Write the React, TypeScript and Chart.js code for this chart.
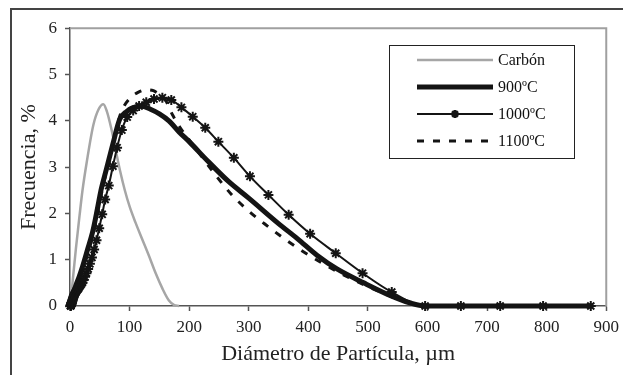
import React, { useEffect, useRef } from 'react';
import { Chart, registerables } from 'chart.js';

Chart.register(...registerables);

// ---- data ----
const seriesLabels = ['Carbón', '900ºC', '1000ºC', '1100ºC'];

const carbonX = [0, 2, 5, 10, 16, 21, 28, 39, 48, 56, 62, 69, 77, 84, 92, 100, 110, 120, 132, 144, 155, 166, 175, 183];
const carbonY = [0, 0.2, 0.6, 1.25, 1.95, 2.5, 3.1, 3.9, 4.25, 4.36, 4.2, 3.85, 3.35, 2.92, 2.5, 2.15, 1.8, 1.48, 1.1, 0.7, 0.38, 0.12, 0.02, 0];

const t900X = [0, 2, 5, 10, 15, 21, 29, 38, 46, 52, 61, 72, 83, 95, 105, 119, 135, 150, 166, 183, 200, 232, 266, 300, 350, 382, 415, 448, 493, 537, 570, 595, 660, 750, 877];
const t900Y = [0, 0.1, 0.25, 0.45, 0.62, 0.85, 1.2, 1.6, 2.1, 2.5, 2.95, 3.5, 4.02, 4.2, 4.28, 4.32, 4.25, 4.15, 4.0, 3.76, 3.55, 3.12, 2.69, 2.33, 1.78, 1.45, 1.09, 0.8, 0.5, 0.23, 0.07, 0, 0, 0, 0];

const t1000X = [1.0, 1.1, 1.3, 1.4, 1.5, 1.7, 1.9, 2.1, 2.3, 2.5, 2.8, 3.1, 3.4, 3.7, 4.1, 4.5, 5.0, 5.5, 6.0, 6.6, 7.3, 8.0, 8.8, 9.7, 10.6, 11.7, 12.9, 14.2, 15.6, 17.1, 18.8, 20.7, 22.8, 25.1, 27.6, 30.4, 33.4, 36.8, 40.5, 44.5, 49, 54, 59, 65, 72, 79, 87, 96, 106, 116, 128, 141, 155, 170, 187, 206, 227, 249, 275, 302, 333, 367, 403, 446, 491, 540, 596, 656, 722, 794, 874];
const t1000Y = [0, 0.005, 0.01, 0.015, 0.02, 0.025, 0.03, 0.04, 0.05, 0.06, 0.07, 0.08, 0.09, 0.1, 0.12, 0.14, 0.16, 0.18, 0.2, 0.22, 0.24, 0.26, 0.28, 0.3, 0.32, 0.34, 0.36, 0.38, 0.41, 0.44, 0.47, 0.51, 0.56, 0.63, 0.71, 0.8, 0.91, 1.05, 1.22, 1.42, 1.68, 1.98, 2.3, 2.6, 3.02, 3.42, 3.8, 4.08, 4.22, 4.32, 4.4, 4.47, 4.5, 4.45, 4.29, 4.09, 3.85, 3.55, 3.2, 2.8, 2.4, 1.97, 1.56, 1.14, 0.71, 0.3, 0, 0, 0, 0, 0];

const t1100X = [0, 2, 5, 10, 15, 21, 29, 38, 46, 54, 63, 72, 80, 88, 100, 115, 130, 140, 150, 160, 172, 185, 210, 246, 271, 300, 327, 360, 393, 432, 470, 500, 540, 570, 595, 660, 750, 877];
const t1100Y = [0, 0.08, 0.2, 0.38, 0.55, 0.75, 1.1, 1.5, 2.0, 2.5, 3.0, 3.45, 3.95, 4.25, 4.48, 4.62, 4.67, 4.65, 4.57, 4.45, 4.13, 3.85, 3.42, 2.8, 2.41, 2.05, 1.77, 1.45, 1.16, 0.86, 0.6, 0.42, 0.2, 0.07, 0, 0, 0, 0];

const xMin = 0, xMax = 900, xStep = 100;
const yMin = 0, yMax = 6, yStep = 1;
const xTitle = 'Diámetro de Partícula, µm';
const yTitle = 'Frecuencia, %';

const pts = (xs: number[], ys: number[]) => xs.map((x, i) => ({ x, y: ys[i] }));

const SERIF = '"Liberation Serif", "Times New Roman", serif';

function drawStar(ctx: CanvasRenderingContext2D, x: number, y: number, r: number) {
  ctx.beginPath();
  ctx.moveTo(x - r, y); ctx.lineTo(x + r, y);
  ctx.moveTo(x, y - r); ctx.lineTo(x, y + r);
  const d = r * 0.7071;
  ctx.moveTo(x - d, y - d); ctx.lineTo(x + d, y + d);
  ctx.moveTo(x - d, y + d); ctx.lineTo(x + d, y - d);
  ctx.stroke();
}

const framePlugin = {
  id: 'plotFrame',
  beforeDatasetsDraw(chart: any) {
    const { ctx, chartArea } = chart;
    ctx.save();
    ctx.strokeStyle = '#a0a0a0';
    ctx.lineWidth = 2;
    ctx.beginPath();
    ctx.moveTo(chartArea.left, chartArea.top);
    ctx.lineTo(chartArea.right, chartArea.top);
    ctx.lineTo(chartArea.right, chartArea.bottom);
    ctx.stroke();
    ctx.restore();
  },
};

const legendPlugin = {
  id: 'boxLegend',
  afterDraw(chart: any) {
    const { ctx, chartArea } = chart;
    const w = 185, h = 113;
    const bx = Math.round(chartArea.right - 32 - w);
    const by = Math.round(chartArea.top + 17);
    ctx.save();
    ctx.fillStyle = '#ffffff';
    ctx.fillRect(bx, by, w, h);
    ctx.strokeStyle = '#222';
    ctx.lineWidth = 1;
    ctx.strokeRect(bx + 0.5, by + 0.5, w, h);
    chart.data.datasets.forEach((ds: any, i: number) => {
      const y = by + 15 + i * 27;
      ctx.strokeStyle = ds.borderColor;
      ctx.lineWidth = ds.borderWidth;
      ctx.setLineDash(ds.borderDash || []);
      ctx.lineCap = 'butt';
      ctx.beginPath();
      ctx.moveTo(bx + 28, y);
      ctx.lineTo(bx + 104, y);
      ctx.stroke();
      ctx.setLineDash([]);
      if (ds.pointRadius && ds.pointRadius > 0) {
        ctx.lineWidth = 2.5;
        drawStar(ctx, bx + 66, y, 4);
      }
      ctx.fillStyle = '#111';
      ctx.font = `16px ${SERIF}`;
      ctx.textBaseline = 'middle';
      ctx.textAlign = 'left';
      ctx.fillText(ds.label, bx + 109, y + 1);
    });
    ctx.restore();
  },
};

export default function App() {
  const ref = useRef<HTMLCanvasElement | null>(null);

  useEffect(() => {
    if (!ref.current) return;
    const tickFont = { family: SERIF, size: 17 };
    const titleFont = { family: SERIF, size: 22 };
    const chart = new Chart(ref.current, {
      type: 'scatter',
      data: {
        datasets: [
          {
            label: seriesLabels[0],
            data: pts(carbonX, carbonY),
            showLine: true,
            borderColor: '#a6a6a6',
            borderWidth: 2.5,
            pointRadius: 0,
            cubicInterpolationMode: 'monotone',
            clip: false,
            order: 4,
          },
          {
            label: seriesLabels[1],
            data: pts(t900X, t900Y),
            showLine: true,
            borderColor: '#141414',
            borderWidth: 5,
            pointRadius: 0,
            borderJoinStyle: 'round',
            cubicInterpolationMode: 'monotone',
            clip: false,
            order: 3,
          },
          {
            label: seriesLabels[2],
            data: pts(t1000X, t1000Y),
            showLine: true,
            borderColor: '#141414',
            borderWidth: 2,
            pointRadius: 5,
            pointStyle: 'star',
            pointBorderColor: '#141414',
            pointBackgroundColor: '#141414',
            pointBorderWidth: 2,
            cubicInterpolationMode: 'monotone',
            clip: false,
            order: 1,
          },
          {
            label: seriesLabels[3],
            data: pts(t1100X, t1100Y),
            showLine: true,
            borderColor: '#141414',
            borderWidth: 3,
            borderDash: [7, 9],
            pointRadius: 0,
            cubicInterpolationMode: 'monotone',
            clip: false,
            order: 2,
          },
        ] as any,
      },
      options: {
        animation: false,
        responsive: false,
        devicePixelRatio: 1,
        layout: { padding: { left: 0, top: 15, right: 13, bottom: 0 } },
        plugins: {
          legend: { display: false },
          tooltip: { enabled: false },
        },
        scales: {
          x: {
            type: 'linear',
            min: xMin,
            max: xMax,
            ticks: { stepSize: xStep, font: tickFont, color: '#222', padding: 6, maxRotation: 0 },
            grid: { display: true, drawOnChartArea: false, drawTicks: true, tickLength: 5, color: '#555', tickWidth: 1.5 },
            border: { display: true, color: '#555', width: 1.5 },
            title: { display: true, text: xTitle, font: titleFont, color: '#222', padding: { top: 0, bottom: 9 } },
            afterFit: (s: any) => { s.height = 70; },
          },
          y: {
            type: 'linear',
            min: yMin,
            max: yMax,
            ticks: { stepSize: yStep, font: tickFont, color: '#222', padding: 8 },
            grid: { display: true, drawOnChartArea: false, drawTicks: true, tickLength: 5, color: '#555', tickWidth: 1.5 },
            border: { display: true, color: '#555', width: 1.5 },
            title: { display: true, text: yTitle, font: titleFont, color: '#222', padding: { top: 4, bottom: 0 } },
            afterFit: (s: any) => { s.width = 58; },
          },
        },
      } as any,
      plugins: [framePlugin, legendPlugin],
    });
    return () => chart.destroy();
  }, []);

  return (
    <div
      style={{
        position: 'relative',
        width: 617,
        height: 380,
        marginLeft: 2,
        border: '2px solid #444',
        boxSizing: 'border-box',
        background: '#fff',
      }}
    >
      <canvas ref={ref} width={613} height={366} style={{ display: 'block', width: 613, height: 366 }} />
    </div>
  );
}
